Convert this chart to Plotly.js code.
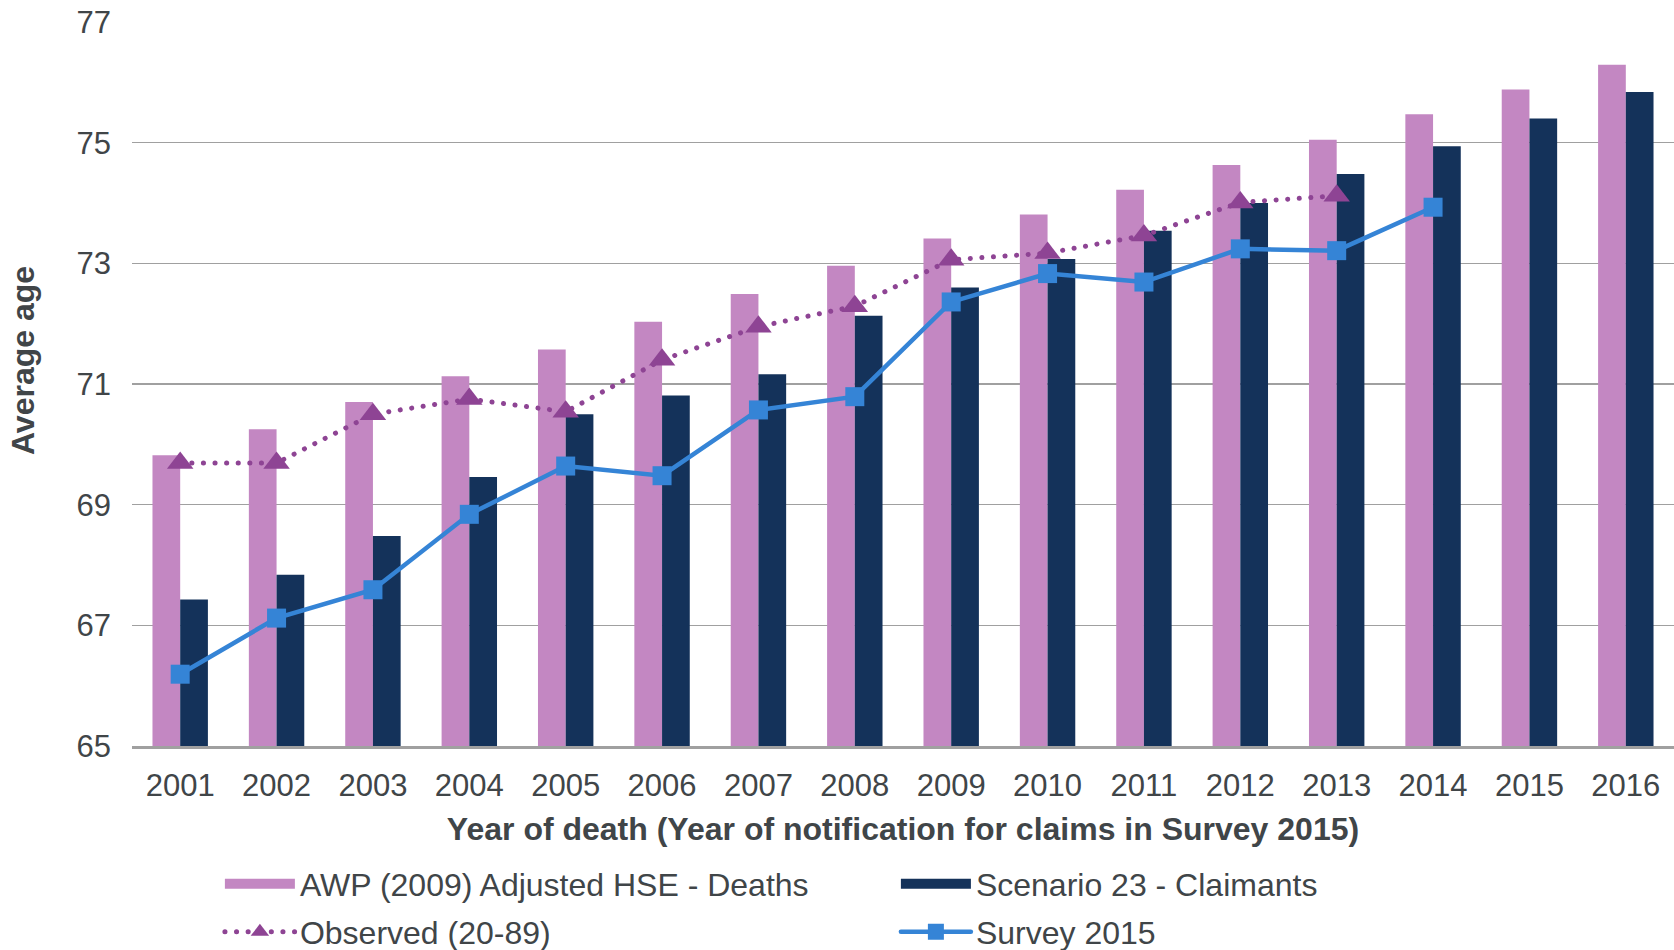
<!DOCTYPE html>
<html>
<head>
<meta charset="utf-8">
<script src="https://cdn.plot.ly/plotly-3.0.1.min.js"></script>
<style>
  html, body { margin: 0; padding: 0; background: #ffffff; }
  #chart { width: 1674px; height: 950px; }
  .scatterlayer path.js-line, .legend2 path.js-line { stroke-linecap: round; }
</style>
</head>
<body>
<div id="chart"></div>
<script>
const years = ["2001","2002","2003","2004","2005","2006","2007","2008","2009","2010","2011","2012","2013","2014","2015","2016"];
const awpDeaths = [69.82, 70.25, 70.70, 71.13, 71.57, 72.03, 72.49, 72.96, 73.41, 73.81, 74.22, 74.63, 75.05, 75.47, 75.88, 76.29];
const scenarioClaimants = [67.43, 67.84, 68.48, 69.46, 70.50, 70.81, 71.16, 72.13, 72.60, 73.07, 73.54, 74.00, 74.48, 74.94, 75.40, 75.84];
const observed = [69.69, 69.69, 70.50, 70.75, 70.54, 71.40, 71.95, 72.29, 73.06, 73.17, 73.46, 74.01, 74.12, null, null, null];
const survey2015 = [66.19, 67.12, 67.59, 68.84, 69.64, 69.48, 70.57, 70.79, 72.36, 72.83, 72.69, 73.24, 73.21, 73.93, null, null];
const yTicks = [65, 67, 69, 71, 73, 75, 77];

const FONT = '"Liberation Sans", Arial, sans-serif';
const TXT = '#404548';
const PINK = '#C387C2';
const NAVY = '#14325A';
const PURPLE = '#8E4494';
const BLUE = '#3584D6';

const traces = [
  {
    type: 'bar', name: 'AWP (2009) Adjusted HSE - Deaths', x: years, y: awpDeaths,
    marker: { color: PINK }, showlegend: false, hoverinfo: 'y'
  },
  {
    type: 'bar', name: 'Scenario 23 - Claimants', x: years, y: scenarioClaimants,
    marker: { color: NAVY }, showlegend: false, hoverinfo: 'y'
  },
  {
    type: 'scatter', mode: 'lines+markers', name: 'Observed (20-89)', x: years, y: observed,
    line: { color: PURPLE, width: 5, dash: '0.1px,11.5px' },
    marker: { symbol: 'triangle-up', size: 23, color: PURPLE },
    legend: 'legend2', connectgaps: false
  },
  {
    type: 'scatter', mode: 'lines+markers', name: 'Survey 2015', x: years, y: survey2015,
    line: { color: BLUE, width: 4.5 },
    marker: { symbol: 'square', size: 19, color: BLUE },
    legend: 'legend2', connectgaps: false
  },
  // legend-only keys for the two bar series (wide rectangular swatches)
  {
    type: 'scatter', mode: 'lines', name: 'AWP (2009) Adjusted HSE - Deaths', x: [null], y: [null],
    line: { color: PINK, width: 17 }, legend: 'legend', hoverinfo: 'skip'
  },
  {
    type: 'scatter', mode: 'lines', name: 'Scenario 23 - Claimants', x: [null], y: [null],
    line: { color: NAVY, width: 17 }, legend: 'legend', hoverinfo: 'skip'
  }
];

const legendCommon = {
  orientation: 'h', xanchor: 'left', yanchor: 'middle',
  font: { family: FONT, size: 32, color: TXT },
  bgcolor: 'rgba(0,0,0,0)', borderwidth: 0,
  itemwidth: 70, entrywidth: 591, entrywidthmode: 'pixels',
  traceorder: 'normal', itemclick: false, itemdoubleclick: false
};

const layout = {
  width: 1674, height: 950,
  margin: { l: 132, r: 0, t: 22, b: 204, pad: 0, autoexpand: false },
  paper_bgcolor: '#ffffff', plot_bgcolor: '#ffffff',
  font: { family: FONT, size: 31, color: TXT },
  barmode: 'group', bargap: 0.425, bargroupgap: 0,
  showlegend: true,
  xaxis: {
    type: 'category', range: [-0.5, 15.5], tickvals: years, ticktext: years,
    showgrid: false, zeroline: false,
    showline: true, linecolor: '#A0A0A0', linewidth: 2.5,
    ticks: '', ticklabelstandoff: 10,
    tickfont: { family: FONT, size: 31, color: TXT },
    title: { text: 'Year of death (Year of notification for claims in Survey 2015)', font: { family: FONT, size: 32, color: TXT, weight: 'bold' }, standoff: 16 },
    automargin: false, fixedrange: true
  },
  yaxis: {
    range: [65, 77], tickvals: yTicks, ticktext: yTicks.map(String),
    showgrid: true, gridcolor: '#A0A0A0', gridwidth: 1.5,
    zeroline: false, showline: false, ticks: '', ticklabelstandoff: 20,
    tickfont: { family: FONT, size: 31, color: TXT },
    automargin: false, fixedrange: true
  },
  annotations: [
    {
      text: '<b>Average age</b>', xref: 'paper', yref: 'paper',
      x: -0.0707, y: 0.533, xanchor: 'center', yanchor: 'middle',
      textangle: -90, showarrow: false,
      font: { family: FONT, size: 32, color: TXT }
    }
  ],
  legend: Object.assign({}, legendCommon, { x: 0.057, y: -0.1906 }),
  legend2: Object.assign({}, legendCommon, { x: 0.057, y: -0.257 })
};

Plotly.newPlot('chart', traces, layout, { displayModeBar: false, staticPlot: true });
</script>
</body>
</html>
